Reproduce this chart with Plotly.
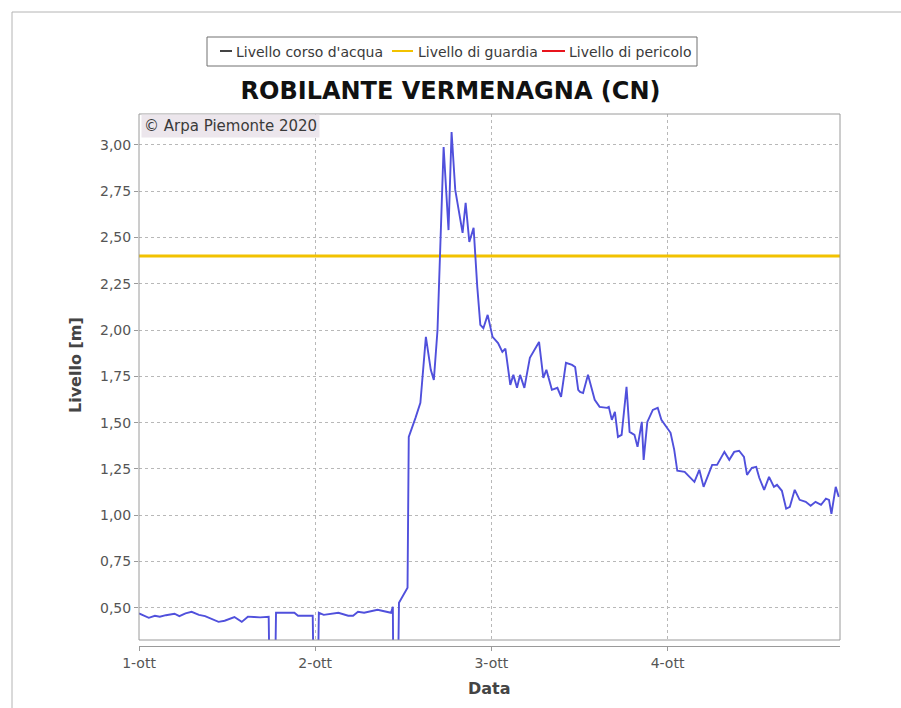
import plotly.graph_objects as go

# Hydrometric level readings, Robilante (Vermenagna), 1-4 October 2020
times = [
    "2020-10-01 00:00", "2020-10-01 01:20", "2020-10-01 02:10", "2020-10-01 02:50",
    "2020-10-01 03:40", "2020-10-01 04:50", "2020-10-01 05:30", "2020-10-01 06:20",
    "2020-10-01 07:10", "2020-10-01 08:10", "2020-10-01 09:00", "2020-10-01 09:50",
    "2020-10-01 10:50", "2020-10-01 11:40", "2020-10-01 12:20", "2020-10-01 13:00",
    "2020-10-01 14:00", "2020-10-01 14:50", "2020-10-01 15:40", "2020-10-01 16:30",
    "2020-10-01 17:40", "2020-10-01 17:50", "2020-10-01 18:30", "2020-10-01 18:40",
    "2020-10-01 21:10", "2020-10-01 21:40", "2020-10-01 23:40", "2020-10-01 23:50",
    "2020-10-02 00:20", "2020-10-02 00:30", "2020-10-02 01:10", "2020-10-02 03:10",
    "2020-10-02 04:30", "2020-10-02 05:10", "2020-10-02 05:50", "2020-10-02 06:40",
    "2020-10-02 08:30", "2020-10-02 10:20", "2020-10-02 10:35", "2020-10-02 10:40",
    "2020-10-02 11:15", "2020-10-02 11:25", "2020-10-02 12:35", "2020-10-02 12:45",
    "2020-10-02 13:40", "2020-10-02 14:20", "2020-10-02 15:05", "2020-10-02 15:45",
    "2020-10-02 16:10", "2020-10-02 16:40", "2020-10-02 17:30", "2020-10-02 18:10",
    "2020-10-02 18:35", "2020-10-02 19:05", "2020-10-02 20:05", "2020-10-02 20:30",
    "2020-10-02 21:00", "2020-10-02 21:35", "2020-10-02 22:05", "2020-10-02 22:30",
    "2020-10-02 22:55", "2020-10-02 23:30", "2020-10-03 00:10", "2020-10-03 00:55",
    "2020-10-03 01:30", "2020-10-03 01:55", "2020-10-03 02:35", "2020-10-03 03:00",
    "2020-10-03 03:30", "2020-10-03 03:55", "2020-10-03 04:30", "2020-10-03 05:15",
    "2020-10-03 06:30", "2020-10-03 07:05", "2020-10-03 07:30", "2020-10-03 08:15",
    "2020-10-03 09:00", "2020-10-03 09:30", "2020-10-03 10:10", "2020-10-03 11:00",
    "2020-10-03 11:25", "2020-10-03 11:50", "2020-10-03 12:05", "2020-10-03 12:30",
    "2020-10-03 13:10", "2020-10-03 14:05", "2020-10-03 14:45", "2020-10-03 15:45",
    "2020-10-03 16:00", "2020-10-03 16:25", "2020-10-03 16:50", "2020-10-03 17:15",
    "2020-10-03 17:45", "2020-10-03 18:25", "2020-10-03 18:50", "2020-10-03 19:30",
    "2020-10-03 19:55", "2020-10-03 20:30", "2020-10-03 20:45", "2020-10-03 21:15",
    "2020-10-03 22:00", "2020-10-03 22:40", "2020-10-03 23:10", "2020-10-03 23:50",
    "2020-10-04 00:25", "2020-10-04 00:55", "2020-10-04 01:20", "2020-10-04 02:20",
    "2020-10-04 03:40", "2020-10-04 04:20", "2020-10-04 04:55", "2020-10-04 06:05",
    "2020-10-04 06:45", "2020-10-04 07:45", "2020-10-04 08:25", "2020-10-04 09:05",
    "2020-10-04 09:45", "2020-10-04 10:25", "2020-10-04 10:50", "2020-10-04 11:30",
    "2020-10-04 12:05", "2020-10-04 12:30", "2020-10-04 13:10", "2020-10-04 13:50",
    "2020-10-04 14:30", "2020-10-04 14:55", "2020-10-04 15:35", "2020-10-04 16:10",
    "2020-10-04 16:40", "2020-10-04 17:20", "2020-10-04 18:00", "2020-10-04 18:50",
    "2020-10-04 19:30", "2020-10-04 20:10", "2020-10-04 20:55", "2020-10-04 21:35",
    "2020-10-04 22:00", "2020-10-04 22:20", "2020-10-04 22:55", "2020-10-04 23:20",
]
levels = [
    0.470, 0.446, 0.457, 0.452,
    0.460, 0.468, 0.455, 0.470,
    0.478, 0.462, 0.455, 0.440,
    0.424, 0.430, 0.440, 0.450,
    0.424, 0.452, 0.450, 0.448,
    0.451, 0.000, 0.000, 0.473,
    0.473, 0.457, 0.457, 0.000,
    0.000, 0.473, 0.462, 0.473,
    0.457, 0.457, 0.478, 0.473,
    0.489, 0.473, 0.505, 0.000,
    0.000, 0.527, 0.608, 1.423,
    1.526, 1.607, 1.963, 1.785,
    1.731, 2.000, 2.989, 2.540,
    3.070, 2.757, 2.525, 2.687,
    2.476, 2.552, 2.233, 2.028,
    2.010, 2.082, 1.963, 1.930,
    1.882, 1.900, 1.704, 1.758,
    1.688, 1.758, 1.688, 1.850,
    1.936, 1.742, 1.785, 1.677,
    1.688, 1.639, 1.823, 1.812,
    1.800, 1.677, 1.666, 1.660,
    1.758, 1.623, 1.585, 1.580,
    1.585, 1.515, 1.558, 1.423,
    1.434, 1.693, 1.450, 1.434,
    1.369, 1.504, 1.299, 1.504,
    1.569, 1.580, 1.515, 1.477,
    1.445, 1.353, 1.240, 1.234,
    1.180, 1.245, 1.153, 1.272,
    1.272, 1.342, 1.299, 1.342,
    1.348, 1.315, 1.218, 1.256,
    1.261, 1.202, 1.137, 1.207,
    1.153, 1.164, 1.132, 1.035,
    1.045, 1.137, 1.083, 1.072,
    1.051, 1.072, 1.056, 1.089,
    1.083, 1.008, 1.153, 1.099,
]

guard_level = 2.40

day_ticks = ["2020-10-01", "2020-10-02", "2020-10-03", "2020-10-04"]
day_labels = ["1-ott", "2-ott", "3-ott", "4-ott"]
y_ticks = [0.50, 0.75, 1.00, 1.25, 1.50, 1.75, 2.00, 2.25, 2.50, 2.75, 3.00]

legend_names = ["Livello corso d'acqua", "Livello di guardia", "Livello di pericolo"]
legend_colors = ["#444444", "#f2c200", "#e8141c"]

W, H = 901, 708
ML, MR, MT, MB = 139, 61, 114, 62
PW, PH = W - ML - MR, H - MT - MB
FONT = "DejaVu Sans"


def px(x):
    return (x - ML) / PW


def py(y):
    return (H - MB - y) / PH


fig = go.Figure()

fig.add_trace(go.Scatter(
    x=[day_ticks[0] + " 00:00", "2020-10-04 23:30"], y=[guard_level, guard_level],
    mode="lines", line=dict(color=legend_colors[1], width=3),
    showlegend=False, hoverinfo="skip",
))
fig.add_trace(go.Scatter(
    x=times, y=levels, mode="lines",
    line=dict(color="#5050dc", width=1.9),
    showlegend=False,
))

shapes = []
annotations = []

# outer frame (top and left edges)
shapes.append(dict(type="line", xref="paper", yref="paper",
                   x0=px(12), x1=px(901), y0=py(12), y1=py(12),
                   line=dict(color="#b4b4b4", width=1)))
shapes.append(dict(type="line", xref="paper", yref="paper",
                   x0=px(12), x1=px(12), y0=py(12), y1=py(708),
                   line=dict(color="#b4b4b4", width=1)))

# plot-area border
shapes.append(dict(type="rect", xref="x domain", yref="y domain",
                   x0=0, x1=1, y0=0, y1=1, layer="above",
                   line=dict(color="#9a9a9a", width=1)))

# legend box with entries
shapes.append(dict(type="rect", xref="paper", yref="paper",
                   x0=px(207), x1=px(697), y0=py(37), y1=py(66),
                   line=dict(color="#707070", width=1), fillcolor="white"))
sym_x = [(220, 232), (392, 413), (542, 565)]
txt_x = [234, 416, 567]
for (a, b), tx, name, col in zip(sym_x, txt_x, legend_names, legend_colors):
    shapes.append(dict(type="line", xref="paper", yref="paper",
                       x0=px(a), x1=px(b), y0=py(51), y1=py(51),
                       line=dict(color=col, width=2)))
    annotations.append(dict(text=name, xref="paper", yref="paper",
                            x=px(tx), y=py(51.5), xanchor="left", yanchor="middle",
                            showarrow=False, font=dict(family=FONT, size=14, color="#3a3a3a")))

# copyright tag
annotations.append(dict(text="© Arpa Piemonte 2020", xref="paper", yref="paper",
                        x=px(141), y=py(114), xanchor="left", yanchor="top",
                        showarrow=False, bgcolor="#ece6ec", borderpad=2,
                        font=dict(family=FONT, size=15, color="#3a3a3a")))

# axis titles
annotations.append(dict(text="<b>Livello [m]</b>", xref="paper", yref="paper",
                        x=px(75), y=py(365), textangle=-90,
                        xanchor="center", yanchor="middle", showarrow=False,
                        font=dict(family=FONT, size=16, color="#444444")))
annotations.append(dict(text="<b>Data</b>", xref="paper", yref="paper",
                        x=px(490), y=py(688), xanchor="center", yanchor="middle",
                        showarrow=False, font=dict(family=FONT, size=16, color="#444444")))

fig.update_layout(
    width=W, height=H,
    margin=dict(l=ML, r=MR, t=MT, b=MB),
    paper_bgcolor="white", plot_bgcolor="white",
    separators=",.",
    showlegend=False,
    title=dict(text="<b>ROBILANTE VERMENAGNA (CN)</b>", x=0.5, xanchor="center",
               xref="container", y=1 - 91 / H, yanchor="middle", yref="container",
               font=dict(family=FONT, size=24, color="#111111")),
    shapes=shapes,
    annotations=annotations,
    xaxis=dict(
        type="date", range=["2020-10-01 00:00", "2020-10-04 23:30"],
        tickvals=day_ticks, ticktext=day_labels,
        anchor="free", position=0,
        showline=True, linecolor="#9a9a9a", linewidth=1,
        ticks="outside", ticklen=4, tickcolor="#9a9a9a",
        showgrid=True, gridcolor="#b8b8b8", griddash="dot", gridwidth=1,
        zeroline=False,
        tickfont=dict(family=FONT, size=14, color="#555555"),
    ),
    yaxis=dict(
        range=[0.326, 3.167], domain=[6 / PH, 1],
        tickvals=y_ticks, tickformat=".2f",
        showline=False,
        ticks="outside", ticklen=4, tickcolor="#9a9a9a",
        showgrid=True, gridcolor="#b8b8b8", griddash="dot", gridwidth=1,
        zeroline=False,
        tickfont=dict(family=FONT, size=14, color="#555555"),
    ),
)

fig.write_html("out.html")
